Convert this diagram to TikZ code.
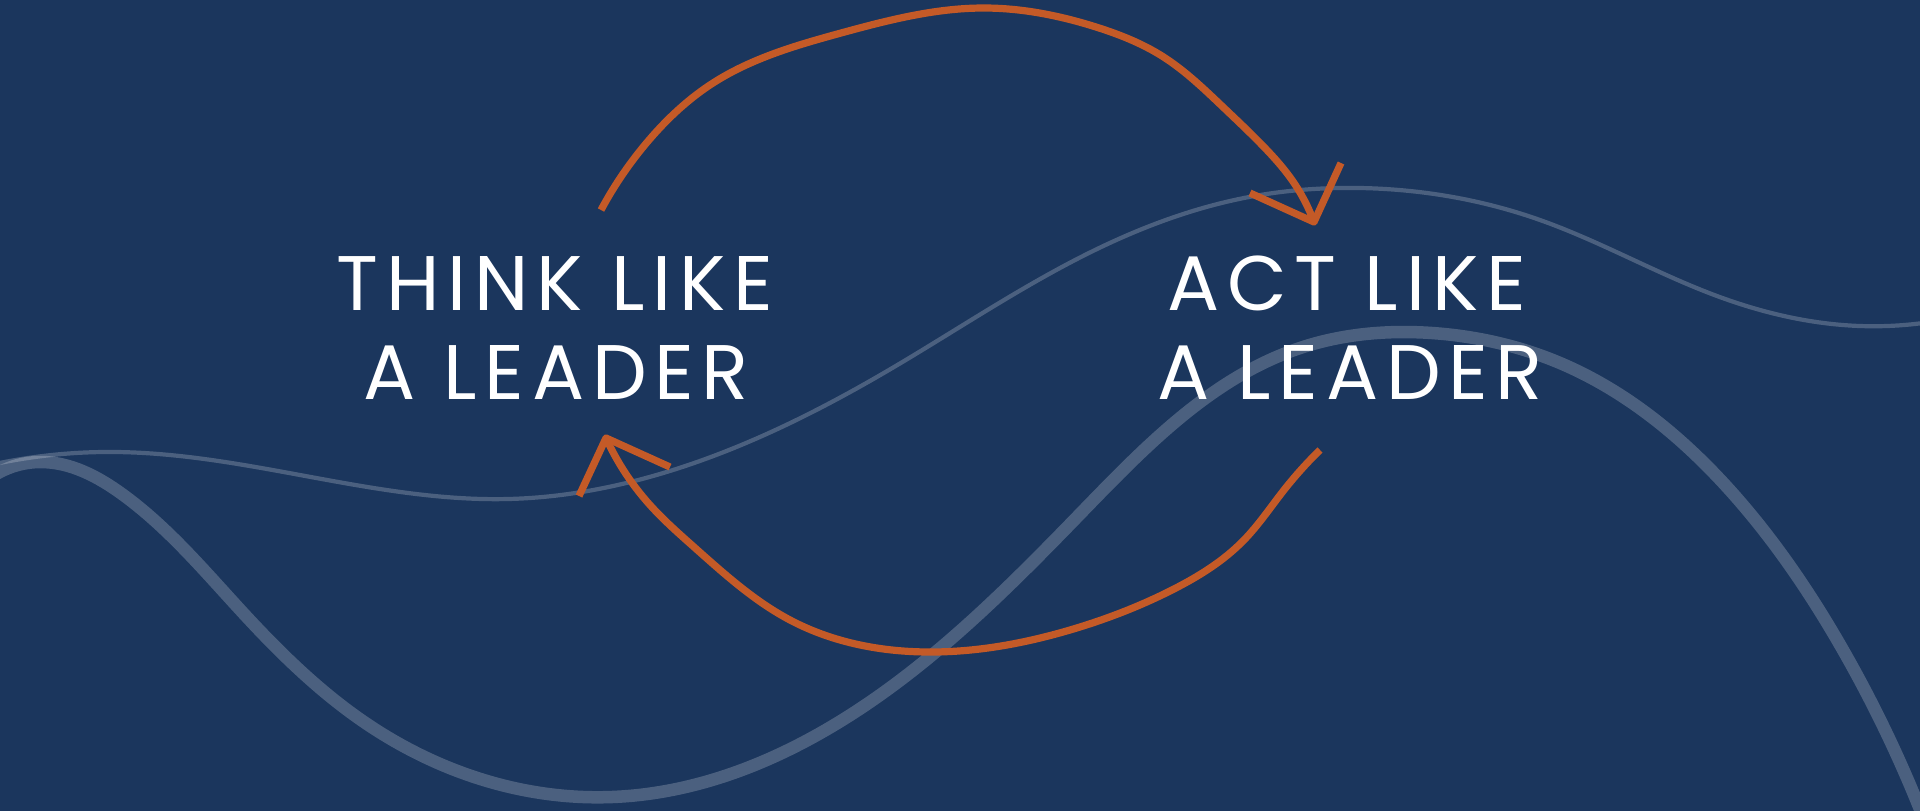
\documentclass[tikz,border=0pt]{standalone}
\usepackage{fontspec}
\setmainfont{Poppins}
\usetikzlibrary{hobby}
\definecolor{bg}{HTML}{1B365D}
\definecolor{rust}{HTML}{C45A27}
\tikzset{
  swirl/.style={draw=white, draw opacity=0.21, line cap=round},
  thickswirl/.style={swirl, line width=0.125cm},
  thinswirl/.style={swirl, line width=0.042cm},
  loopline/.style={draw=rust, line width=0.072cm, line cap=butt, line join=round},
  caption/.style={text=white, font=\fontsize{22}{26}\selectfont\addfontfeatures{LetterSpace=10}, anchor=base, inner sep=0pt},
}
\begin{document}
\begin{tikzpicture}[x=0.01cm,y=-0.01cm]
\fill[bg] (0,0) rectangle (1920,811);
\useasboundingbox (0,0) rectangle (1920,811);

% background swirls
\draw[thickswirl, use Hobby shortcut] (-10,478) .. (40,462) .. (122,494) .. (245,615) .. (367,724) .. (612,797) .. (870,702) .. (1080,514) .. (1300,348) .. (1432,333) .. (1560,363) .. (1727,487) .. (1843,650) .. (1930,835);
\draw[thinswirl, use Hobby shortcut] (-10,465) .. (116,452) .. (300,475) .. (508,499) .. (673,470) .. (894,367) .. (1095,250) .. (1249,197) .. (1360,188) .. (1540,220) .. (1717,296) .. (1860,326) .. (1930,322);

% labels
\node[caption] (think1) at (555,310) {THINK LIKE};
\node[caption] (think2) at (556,399) {A LEADER};
\node[caption] (act1) at (1347,310) {ACT LIKE};
\node[caption] (act2) at (1350,399) {A LEADER};

% top loop: think -> act
\coordinate (ts) at (601,210);
\coordinate (tt) at (1314,222);
\coordinate (tl) at (1250,193);
\coordinate (tr) at (1341,163);
\draw[loopline, use Hobby shortcut] (ts) .. (649,140) .. (713,83) .. (841,33) .. (983,8) .. (1096,27) .. (1162,56) .. (1223,107) .. (1264,147) .. (1292,180) .. (tt);
\draw[loopline] (tl) -- (tt) -- (tr);

% bottom loop: act -> think
\coordinate (bs) at (1320,450);
\coordinate (bt) at (606,438);
\coordinate (bl) at (579,496);
\coordinate (br) at (670,467);
\draw[loopline, use Hobby shortcut] (bs) .. (1284,490) .. (1244,540) .. (1172,590) .. (1070,630) .. (932,652) .. (790,620) .. (694,547) .. (650,505) .. (bt);
\draw[loopline] (bl) -- (bt) -- (br);
\end{tikzpicture}
\end{document}
